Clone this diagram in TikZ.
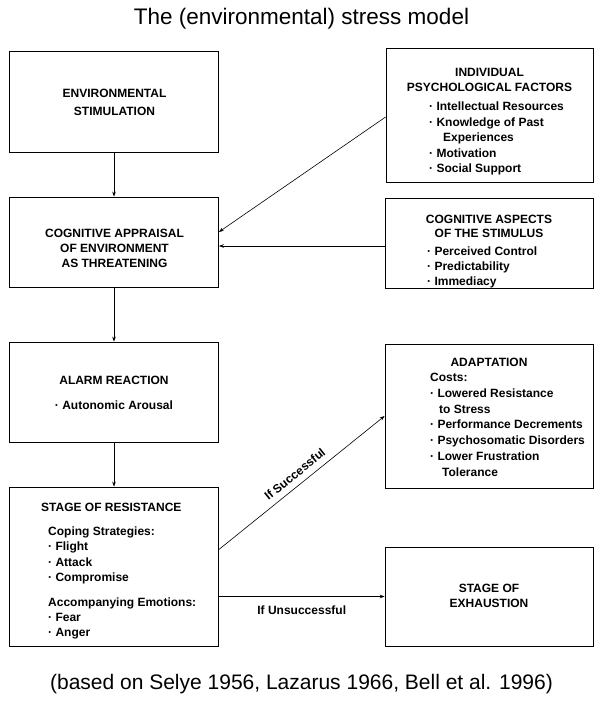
\documentclass[tikz,border=0pt]{standalone}
\usepackage{fontspec}
\setmainfont{Liberation Sans}
\usetikzlibrary{arrows.meta,positioning}
\tikzset{
  >={Stealth[length=5pt,width=3.6pt]},
  stagebox/.style={draw=black,line width=0.8pt,minimum width=209pt,minimum height=#1,inner sep=0pt},
  stagebox/.default=100pt,
  boxtext/.style={font=\bfseries\fontsize{12}{#1}\selectfont,align=center,inner sep=0pt,anchor=base},
  boxtext/.default=15,
  listtext/.style={font=\bfseries\fontsize{12}{#1}\selectfont,align=left,inner sep=0pt,anchor=base west},
  listtext/.default=15.5,
  link/.style={->,line width=0.6pt},
  linklabel/.style={font=\bfseries\fontsize{12}{15}\selectfont},
}
\begin{document}
\begin{tikzpicture}[x=1pt,y=-1pt]
  \useasboundingbox (0,0) rectangle (603,704);
  \node[font=\fontsize{22.5}{27}\selectfont,anchor=base] (title) at (301.5,24) {The (environmental) stress model};
  % left column
  \node[stagebox=101pt] (env) at (114,101.5) {};
  \node[stagebox=90pt] (cog) at (114,242) {};
  \node[stagebox=100pt] (alarm) at (114,392) {};
  \node[stagebox=159pt] (resist) at (114,566.5) {};
  % right column
  \node[stagebox=134pt,minimum width=207pt] (ipf) at (489.5,115) {};
  \node[stagebox=90pt,minimum width=208pt] (cas) at (489,243) {};
  \node[stagebox=144pt,minimum width=208pt] (adapt) at (489,416) {};
  \node[stagebox=99pt,minimum width=208pt] (exh) at (489,596.5) {};
  % texts (base = baseline of the last line)
  \node[boxtext=18] (envtxt) at (114.5,115.3) {ENVIRONMENTAL\\STIMULATION};
  \node[boxtext] (cogtxt) at (114.5,267.3) {COGNITIVE APPRAISAL\\OF ENVIRONMENT\\AS THREATENING};
  \node[boxtext] (alarmtxt) at (114,409.3) {ALARM REACTION\\[9.5pt]· Autonomic Arousal};
  \node[listtext] (resisthead) at (41,511.3) {STAGE OF RESISTANCE};
  \node[listtext=15.3] (resisttxt) at (48,636.8) {Coping Strategies:\\· Flight\\· Attack\\· Compromise\\[9.5pt]Accompanying Emotions:\\· Fear\\· Anger};
  \node[boxtext] (ipfhead) at (489.5,91.5) {INDIVIDUAL\\PSYCHOLOGICAL FACTORS};
  \node[listtext] (ipftxt) at (429,172.5) {· Intellectual Resources\\· Knowledge of Past\\\hspace*{14pt}Experiences\\· Motivation\\· Social Support};
  \node[boxtext=14] (cashead) at (489,237.3) {COGNITIVE ASPECTS\\OF THE STIMULUS};
  \node[listtext=15] (castxt) at (427,285.5) {· Perceived Control\\· Predictability\\· Immediacy};
  \node[boxtext] (adapthead) at (489,366.3) {ADAPTATION};
  \node[listtext=15.8] (adapttxt) at (430,476.3) {Costs:\\· Lowered Resistance\\\hspace*{9pt}to Stress\\· Performance Decrements\\· Psychosomatic Disorders\\· Lower Frustration\\\hspace*{12pt}Tolerance};
  \node[boxtext] (exhtxt) at (489,607.3) {STAGE OF\\EXHAUSTION};
  % connectors
  \draw[link] (env) -- (cog);
  \draw[link] ([yshift=-2pt]ipf.west) -- ([yshift=10pt]cog.east);
  \draw[link] ([yshift=-3pt]cas.west) -- ([yshift=-3pt]cas.west -| cog.east);
  \draw[link] (cog) -- (alarm);
  \draw[link] (alarm) -- (resist);
  \draw[link] ([yshift=17pt]resist.east) -- (adapt.west)
    node[linklabel,sloped,above=3pt,midway] (succ) {If Successful};
  \draw[link] (exh.west -| resist.east) -- (exh.west)
    node[linklabel,below=6pt,midway] (unsucc) {If Unsuccessful};
  \node[font=\fontsize{21}{25}\selectfont,anchor=base] (source) at (301.5,689) {(based on Selye 1956, Lazarus 1966, Bell et al. 1996)};
\end{tikzpicture}
\end{document}
